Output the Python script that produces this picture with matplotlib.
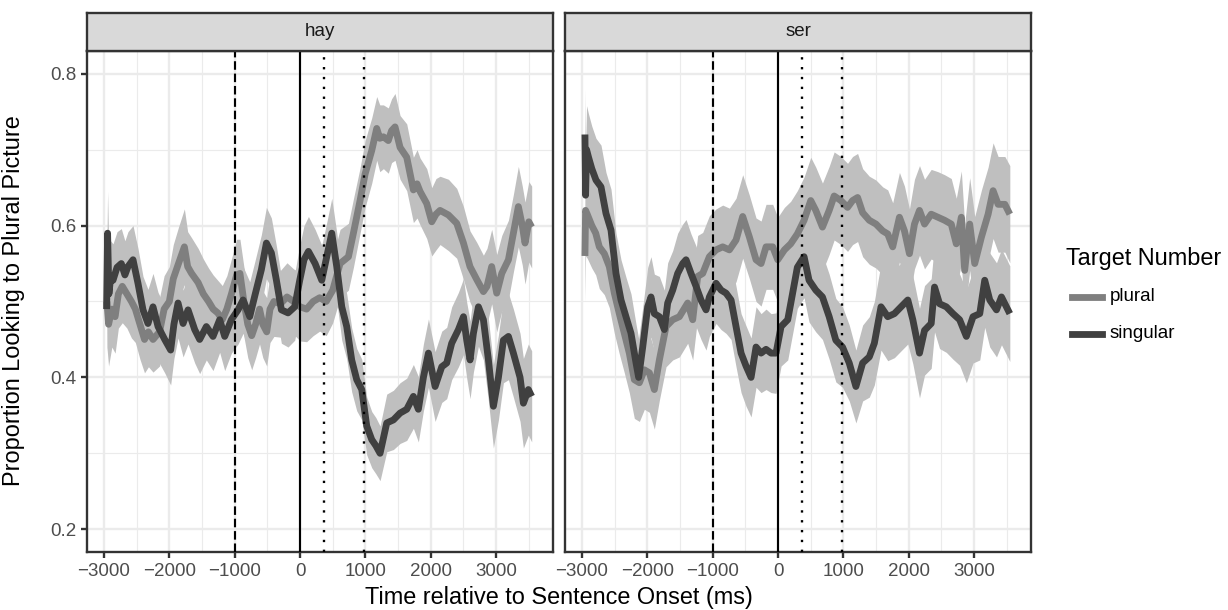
import numpy as np
import matplotlib
matplotlib.use("Agg")
import matplotlib.pyplot as plt
from matplotlib.lines import Line2D
from matplotlib.ticker import MultipleLocator

plt.rcParams['font.family'] = ['Liberation Sans', 'DejaVu Sans']

# ---------------- data ----------------
panels = ["hay", "ser"]
series_names = ["plural", "singular"]
legend_title = "Target Number"
x_label = "Time relative to Sentence Onset (ms)"
y_label = "Proportion Looking to Plural Picture"
x_ticks = [-3000, -2000, -1000, 0, 1000, 2000, 3000]
y_ticks = [0.2, 0.4, 0.6, 0.8]
vline_dashed = -1000
vline_solid = 0
vline_dotted = [372, 975]

# (time ms, proportion, ribbon half-width)
hay_plural = [
    (-2955, 0.50, 0.060), (-2930, 0.47, 0.055), (-2880, 0.49, 0.050), (-2830, 0.48, 0.048),
    (-2780, 0.51, 0.045), (-2720, 0.52, 0.048), (-2650, 0.51, 0.045), (-2580, 0.50, 0.048),
    (-2520, 0.49, 0.044), (-2450, 0.47, 0.046), (-2380, 0.45, 0.044), (-2320, 0.46, 0.046),
    (-2250, 0.45, 0.043), (-2150, 0.46, 0.045), (-2080, 0.49, 0.044), (-2000, 0.50, 0.046),
    (-1940, 0.53, 0.045), (-1860, 0.55, 0.048), (-1770, 0.572, 0.050), (-1720, 0.546, 0.046),
    (-1660, 0.537, 0.047), (-1560, 0.525, 0.045), (-1480, 0.51, 0.046), (-1400, 0.50, 0.044),
    (-1330, 0.49, 0.045), (-1260, 0.485, 0.043), (-1190, 0.476, 0.045), (-1120, 0.49, 0.044),
    (-1050, 0.51, 0.046), (-970, 0.535, 0.047), (-920, 0.537, 0.045), (-860, 0.50, 0.046),
    (-800, 0.47, 0.044), (-740, 0.455, 0.045), (-680, 0.47, 0.044), (-620, 0.49, 0.046),
    (-570, 0.47, 0.044), (-510, 0.46, 0.045), (-460, 0.49, 0.044), (-400, 0.50, 0.046),
    (-300, 0.497, 0.044), (-200, 0.506, 0.045), (-100, 0.50, 0.043), (0, 0.493, 0.045),
    (100, 0.49, 0.043), (200, 0.50, 0.045), (300, 0.505, 0.044), (400, 0.50, 0.045),
    (500, 0.515, 0.043), (612, 0.55, 0.045), (740, 0.559, 0.044), (816, 0.59, 0.045),
    (918, 0.633, 0.043), (995, 0.668, 0.044), (1097, 0.699, 0.043), (1173, 0.728, 0.042),
    (1220, 0.715, 0.044), (1275, 0.717, 0.042), (1350, 0.712, 0.043), (1400, 0.725, 0.042),
    (1453, 0.73, 0.044), (1530, 0.703, 0.042), (1632, 0.69, 0.044), (1734, 0.647, 0.043),
    (1790, 0.655, 0.045), (1836, 0.645, 0.044), (1938, 0.629, 0.046), (2015, 0.605, 0.045),
    (2080, 0.615, 0.047), (2142, 0.62, 0.045), (2270, 0.614, 0.047), (2397, 0.603, 0.046),
    (2500, 0.577, 0.048), (2600, 0.546, 0.047), (2703, 0.529, 0.049), (2805, 0.513, 0.048),
    (2860, 0.52, 0.050), (2932, 0.546, 0.049), (3009, 0.511, 0.051), (3086, 0.537, 0.050),
    (3188, 0.555, 0.052), (3264, 0.59, 0.051), (3340, 0.625, 0.053), (3400, 0.60, 0.052),
    (3442, 0.577, 0.054), (3500, 0.605, 0.053), (3544, 0.598, 0.054),
]

hay_singular = [
    (-2960, 0.49, 0.055), (-2945, 0.59, 0.055), (-2925, 0.51, 0.052), (-2900, 0.53, 0.050),
    (-2862, 0.528, 0.048), (-2800, 0.545, 0.047), (-2735, 0.55, 0.046), (-2680, 0.535, 0.045),
    (-2633, 0.546, 0.046), (-2556, 0.555, 0.045), (-2480, 0.524, 0.046), (-2403, 0.489, 0.044),
    (-2327, 0.471, 0.045), (-2250, 0.493, 0.044), (-2173, 0.467, 0.045), (-2071, 0.45, 0.044),
    (-1980, 0.436, 0.046), (-1930, 0.47, 0.045), (-1867, 0.498, 0.046), (-1790, 0.471, 0.044),
    (-1714, 0.489, 0.045), (-1612, 0.463, 0.044), (-1536, 0.45, 0.045), (-1434, 0.467, 0.044),
    (-1332, 0.454, 0.045), (-1230, 0.476, 0.043), (-1153, 0.454, 0.045), (-1051, 0.476, 0.044),
    (-949, 0.489, 0.045), (-872, 0.502, 0.044), (-770, 0.48, 0.046), (-694, 0.507, 0.045),
    (-592, 0.542, 0.046), (-515, 0.577, 0.047), (-439, 0.564, 0.046), (-362, 0.528, 0.045),
    (-286, 0.489, 0.044), (-184, 0.485, 0.045), (-82, 0.493, 0.044), (-5, 0.528, 0.046),
    (60, 0.555, 0.045), (128, 0.566, 0.046), (230, 0.55, 0.045), (332, 0.528, 0.046),
    (408, 0.559, 0.045), (485, 0.59, 0.046), (561, 0.546, 0.045), (638, 0.493, 0.044),
    (714, 0.467, 0.043), (790, 0.423, 0.042), (867, 0.397, 0.041), (944, 0.384, 0.040),
    (1020, 0.336, 0.038), (1097, 0.318, 0.037), (1160, 0.31, 0.037), (1224, 0.30, 0.036),
    (1326, 0.34, 0.038), (1428, 0.344, 0.039), (1530, 0.353, 0.040), (1632, 0.358, 0.041),
    (1734, 0.375, 0.042), (1810, 0.358, 0.043), (1887, 0.40, 0.044), (1964, 0.432, 0.045),
    (2066, 0.388, 0.046), (2168, 0.414, 0.047), (2244, 0.419, 0.047), (2320, 0.445, 0.048),
    (2423, 0.463, 0.049), (2500, 0.48, 0.050), (2550, 0.449, 0.050), (2601, 0.423, 0.051),
    (2652, 0.458, 0.051), (2729, 0.493, 0.052), (2805, 0.476, 0.053), (2882, 0.423, 0.054),
    (2958, 0.362, 0.055), (3035, 0.40, 0.056), (3111, 0.449, 0.056), (3188, 0.454, 0.057),
    (3264, 0.432, 0.058), (3366, 0.40, 0.058), (3417, 0.366, 0.059), (3493, 0.384, 0.060),
    (3544, 0.375, 0.060),
]

ser_plural = [
    (-2955, 0.56, 0.060), (-2945, 0.62, 0.060), (-2920, 0.615, 0.058), (-2850, 0.60, 0.056),
    (-2790, 0.59, 0.055), (-2735, 0.572, 0.055), (-2658, 0.563, 0.054), (-2582, 0.546, 0.054),
    (-2505, 0.511, 0.053), (-2429, 0.484, 0.053), (-2352, 0.458, 0.052), (-2276, 0.432, 0.052),
    (-2199, 0.397, 0.051), (-2122, 0.393, 0.051), (-2046, 0.41, 0.052), (-1969, 0.406, 0.052),
    (-1893, 0.384, 0.052), (-1816, 0.423, 0.053), (-1714, 0.467, 0.053), (-1612, 0.476, 0.053),
    (-1510, 0.48, 0.053), (-1383, 0.498, 0.053), (-1306, 0.476, 0.053), (-1230, 0.533, 0.054),
    (-1153, 0.537, 0.054), (-1051, 0.559, 0.054), (-949, 0.568, 0.054), (-847, 0.572, 0.055),
    (-745, 0.568, 0.055), (-643, 0.581, 0.055), (-541, 0.612, 0.055), (-439, 0.585, 0.055),
    (-337, 0.555, 0.055), (-260, 0.55, 0.056), (-184, 0.572, 0.056), (-82, 0.572, 0.056),
    (-5, 0.555, 0.056), (97, 0.568, 0.056), (193, 0.576, 0.056), (295, 0.589, 0.057),
    (398, 0.607, 0.057), (500, 0.633, 0.057), (577, 0.62, 0.057), (679, 0.598, 0.058),
    (782, 0.62, 0.058), (858, 0.639, 0.058), (961, 0.633, 0.058), (1063, 0.624, 0.058),
    (1140, 0.633, 0.058), (1217, 0.637, 0.058), (1294, 0.617, 0.058), (1396, 0.607, 0.058),
    (1498, 0.602, 0.058), (1601, 0.593, 0.058), (1678, 0.589, 0.058), (1754, 0.572, 0.058),
    (1857, 0.611, 0.059), (1934, 0.593, 0.059), (2010, 0.563, 0.059), (2087, 0.602, 0.059),
    (2164, 0.62, 0.059), (2241, 0.602, 0.059), (2343, 0.615, 0.059), (2446, 0.611, 0.060),
    (2548, 0.607, 0.060), (2650, 0.602, 0.060), (2727, 0.576, 0.060), (2804, 0.611, 0.061),
    (2855, 0.541, 0.061), (2932, 0.602, 0.061), (3009, 0.55, 0.062), (3112, 0.585, 0.062),
    (3214, 0.615, 0.062), (3290, 0.646, 0.063), (3367, 0.628, 0.063), (3470, 0.628, 0.063),
    (3546, 0.615, 0.064),
]

ser_singular = [
    (-2955, 0.72, 0.060), (-2945, 0.64, 0.060), (-2930, 0.70, 0.058), (-2900, 0.69, 0.057),
    (-2850, 0.675, 0.056), (-2786, 0.66, 0.055), (-2709, 0.651, 0.055), (-2633, 0.616, 0.054),
    (-2556, 0.594, 0.054), (-2480, 0.537, 0.053), (-2403, 0.502, 0.053), (-2327, 0.48, 0.052),
    (-2250, 0.458, 0.052), (-2173, 0.419, 0.051), (-2133, 0.40, 0.051), (-2071, 0.44, 0.052),
    (-1995, 0.493, 0.052), (-1944, 0.506, 0.053), (-1893, 0.484, 0.052), (-1816, 0.48, 0.053),
    (-1740, 0.463, 0.052), (-1689, 0.498, 0.053), (-1612, 0.515, 0.052), (-1536, 0.537, 0.053),
    (-1459, 0.55, 0.052), (-1408, 0.555, 0.053), (-1332, 0.537, 0.052), (-1255, 0.52, 0.053),
    (-1179, 0.502, 0.052), (-1102, 0.489, 0.053), (-1051, 0.506, 0.052), (-949, 0.524, 0.053),
    (-872, 0.515, 0.052), (-796, 0.511, 0.053), (-719, 0.502, 0.052), (-643, 0.467, 0.053),
    (-566, 0.432, 0.052), (-490, 0.415, 0.053), (-413, 0.40, 0.052), (-337, 0.44, 0.053),
    (-260, 0.432, 0.052), (-184, 0.437, 0.053), (-107, 0.432, 0.052), (-31, 0.432, 0.053),
    (46, 0.467, 0.052), (148, 0.476, 0.053), (193, 0.497, 0.053), (295, 0.545, 0.054),
    (398, 0.559, 0.054), (474, 0.528, 0.055), (577, 0.515, 0.055), (679, 0.506, 0.056),
    (782, 0.48, 0.056), (884, 0.449, 0.055), (986, 0.44, 0.053), (1089, 0.419, 0.050),
    (1191, 0.388, 0.048), (1294, 0.419, 0.050), (1396, 0.427, 0.053), (1473, 0.445, 0.055),
    (1575, 0.493, 0.057), (1678, 0.48, 0.058), (1780, 0.484, 0.058), (1882, 0.493, 0.058),
    (1985, 0.502, 0.058), (2062, 0.476, 0.058), (2164, 0.432, 0.059), (2241, 0.462, 0.059),
    (2343, 0.471, 0.059), (2394, 0.519, 0.059), (2471, 0.497, 0.059), (2574, 0.493, 0.060),
    (2676, 0.484, 0.060), (2778, 0.476, 0.060), (2881, 0.454, 0.061), (2983, 0.48, 0.061),
    (3086, 0.484, 0.061), (3162, 0.528, 0.062), (3239, 0.502, 0.062), (3342, 0.489, 0.062),
    (3418, 0.506, 0.063), (3546, 0.484, 0.063),
]

panel_data = {
    "hay": {"plural": hay_plural, "singular": hay_singular},
    "ser": {"plural": ser_plural, "singular": ser_singular},
}

# ---------------- style ----------------
line_colors = {"plural": "#7f7f7f", "singular": "#404040"}
ribbon_color = "#bfbfbf"
grid_color = "#ebebeb"
border_color = "#333333"
tick_text_color = "#4d4d4d"
series_lw = 3.2

W, H = 1228, 610
DPI = 153.5
fig = plt.figure(figsize=(W / DPI, H / DPI), dpi=DPI)

def fx(px):
    return px / W

def fy(py):
    return 1 - py / H

panel_left = [87, 565]
panel_w = 466
panel_top, panel_bot = 51, 552
strip_top = 13

for i, name in enumerate(panels):
    ax = fig.add_axes([fx(panel_left[i]), fy(panel_bot), panel_w / W, (panel_bot - panel_top) / H])
    ax.set_xlim(-3260, 3870)
    ax.set_ylim(0.17, 0.83)
    ax.set_xticks(x_ticks)
    ax.set_yticks(y_ticks)
    ax.xaxis.set_minor_locator(MultipleLocator(500))
    ax.yaxis.set_minor_locator(MultipleLocator(0.1))
    ax.grid(True, which="major", color=grid_color, linewidth=1.1, zorder=0)
    ax.grid(True, which="minor", color=grid_color, linewidth=0.55, zorder=0)
    ax.set_axisbelow(True)
    for s in ax.spines.values():
        s.set_color(border_color)
        s.set_linewidth(1.1)
    ax.tick_params(which="minor", length=0)
    ax.tick_params(which="major", length=2.75, width=1.1, color=border_color,
                   labelsize=8.8, labelcolor=tick_text_color, pad=2.2)
    ax.set_xticklabels([f"{t}".replace("-", "\u2212") for t in x_ticks])
    if i == 0:
        ax.set_yticklabels([f"{v:.1f}" for v in y_ticks])
    else:
        ax.tick_params(axis="y", labelleft=False, length=0)

    data = panel_data[name]
    for sname in series_names:
        arr = np.array(data[sname])
        t, v, hw = arr[:, 0], arr[:, 1], arr[:, 2]
        ax.fill_between(t, v - hw, v + hw, color=ribbon_color, linewidth=0, zorder=1)
    for sname in series_names:
        arr = np.array(data[sname])
        ax.plot(arr[:, 0], arr[:, 1], color=line_colors[sname], linewidth=series_lw,
                solid_joinstyle="round", solid_capstyle="butt", zorder=2)

    ax.axvline(vline_dashed, color="black", linewidth=1.0, linestyle=(0, (4.0, 1.8)), zorder=3)
    ax.axvline(vline_solid, color="black", linewidth=1.0, zorder=3)
    for xv in vline_dotted:
        ax.axvline(xv, color="black", linewidth=1.1, linestyle=(0, (1.0, 3.2)), zorder=3)

    # strip
    sax = fig.add_axes([fx(panel_left[i]), fy(panel_top), panel_w / W, (panel_top - strip_top) / H])
    sax.set_facecolor("#d9d9d9")
    sax.set_xticks([])
    sax.set_yticks([])
    for s in sax.spines.values():
        s.set_color(border_color)
        s.set_linewidth(1.1)
    sax.text(0.5, 0.5, name, ha="center", va="center", fontsize=8.8, color="#1a1a1a",
             transform=sax.transAxes)

# axis titles
fig.text(fx(559), fy(604), x_label, ha="center", va="baseline", fontsize=11, color="black")
fig.text(fx(14), fy(301), y_label, ha="center", va="center", rotation=90, fontsize=11, color="black")

# legend
fig.text(fx(1066), fy(258), legend_title, ha="left", va="center", fontsize=11, color="black")
leg_rows = [297, 334]
for sname, yy in zip(series_names, leg_rows):
    fig.add_artist(Line2D([fx(1072), fx(1102)], [fy(yy), fy(yy)], color=line_colors[sname],
                          linewidth=series_lw, transform=fig.transFigure))
    fig.text(fx(1110), fy(yy), sname, ha="left", va="center", fontsize=8.8, color="black")

fig.savefig("out.png", dpi=DPI)
